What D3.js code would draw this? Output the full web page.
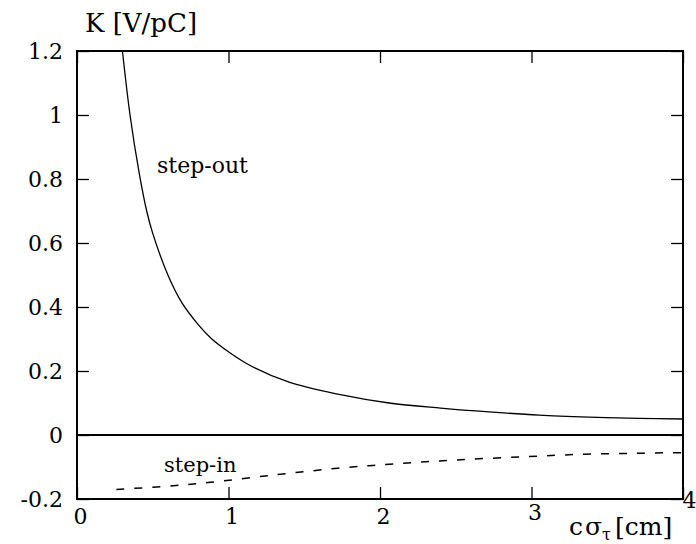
<!DOCTYPE html>
<html>
<head>
<meta charset="utf-8">
<script src="https://cdn.jsdelivr.net/npm/d3@7"></script>
<style>
  body { margin: 0; background: #fff; }
</style>
</head>
<body>
<div id="chart"></div>
<script>
// Data arrays
let xTicks = [0, 1, 2, 3, 4];
let yTicks = [-0.2, 0, 0.2, 0.4, 0.6, 0.8, 1.0, 1.2];
let yTickLabels = ["-0.2", "0", "0.2", "0.4", "0.6", "0.8", "1", "1.2"];

let stepOutX = [0.30, 0.35, 0.41, 0.46, 0.50, 0.60, 0.69, 0.80, 0.89, 1.00, 1.14, 1.40, 1.73, 2.06, 2.40, 2.72, 3.05, 3.38, 3.71, 4.00];
let stepOutK = [1.20, 1.00, 0.82, 0.70, 0.63, 0.50, 0.415, 0.345, 0.30, 0.26, 0.218, 0.165, 0.127, 0.10, 0.084, 0.072, 0.062, 0.056, 0.052, 0.050];

let stepInX = [0.26, 0.60, 0.88, 1.30, 1.72, 2.10, 2.50, 2.95, 3.35, 3.70, 4.00];
let stepInK = [-0.170, -0.160, -0.148, -0.125, -0.104, -0.090, -0.078, -0.068, -0.060, -0.057, -0.055];

let W = 696, H = 544;
let plotL = 77, plotR = 683, plotT = 51, plotB = 499;
let serif = "'DejaVu Serif', 'Liberation Serif', serif";

let svg = d3.select("#chart")
  .append("svg")
  .attr("width", W)
  .attr("height", H)
  .style("font-family", serif);

let x = d3.scaleLinear().domain([0, 4]).range([plotL, plotR]);
let y = d3.scaleLinear().domain([-0.2, 1.2]).range([plotB, plotT]);

let tickLen = 12;

// left axis with labels, ticks pointing inward
svg.append("g")
  .attr("transform", `translate(${plotL},0)`)
  .call(d3.axisLeft(y).tickValues(yTicks).tickSize(-tickLen).tickPadding(14)
    .tickFormat((d, i) => yTickLabels[i]))
  .call(styleAxis)
  .selectAll("text")
  .attr("font-size", 22)
  .attr("dy", "0.35em");

// right axis, ticks only
svg.append("g")
  .attr("transform", `translate(${plotR},0)`)
  .call(d3.axisRight(y).tickValues(yTicks).tickSize(-tickLen).tickFormat(""))
  .call(styleAxis);

// bottom axis with labels
let bx = svg.append("g")
  .attr("transform", `translate(0,${plotB})`)
  .call(d3.axisBottom(x).tickValues(xTicks).tickSize(-tickLen).tickPadding(6)
    .tickFormat(d3.format("d")))
  .call(styleAxis);
bx.selectAll("text")
  .attr("font-size", 22)
  .attr("dx", d => d === 4 ? 6 : 3)
  .attr("y", d => d === 4 ? 9 : (d === 3 ? 21 : 25))
  .attr("dy", 0);

// top axis, ticks only
svg.append("g")
  .attr("transform", `translate(0,${plotT})`)
  .call(d3.axisTop(x).tickValues(xTicks).tickSize(-tickLen).tickFormat(""))
  .call(styleAxis);

// frame
svg.append("rect")
  .attr("x", plotL).attr("y", plotT)
  .attr("width", plotR - plotL).attr("height", plotB - plotT)
  .attr("fill", "none")
  .attr("stroke", "#000")
  .attr("stroke-width", 2);

// zero line
svg.append("line")
  .attr("x1", x(0)).attr("x2", x(4))
  .attr("y1", y(0)).attr("y2", y(0))
  .attr("stroke", "#000")
  .attr("stroke-width", 1.8);

let line = d3.line()
  .x(d => x(d[0]))
  .y(d => y(d[1]))
  .curve(d3.curveCatmullRom.alpha(0.5));

svg.append("path")
  .datum(d3.zip(stepOutX, stepOutK))
  .attr("d", line)
  .attr("fill", "none")
  .attr("stroke", "#000")
  .attr("stroke-width", 1.3);

svg.append("path")
  .datum(d3.zip(stepInX, stepInK))
  .attr("d", line)
  .attr("fill", "none")
  .attr("stroke", "#000")
  .attr("stroke-width", 1.5)
  .attr("stroke-dasharray", "8,10");

// annotations
svg.append("text").attr("x", 157).attr("y", 173).attr("font-size", 22).text("step-out");
svg.append("text").attr("x", 164).attr("y", 472).attr("font-size", 21).text("step-in");

// axis titles
svg.append("text").attr("x", 85).attr("y", 32).attr("font-size", 26).text("K [V/pC]");

let xt = svg.append("text").attr("x", 569).attr("y", 535).attr("font-size", 25);
xt.append("tspan").text("c");
xt.append("tspan").attr("dx", 2).text("σ");
xt.append("tspan").attr("font-size", 16).attr("dy", 5).text("τ");
xt.append("tspan").attr("dy", -5).attr("dx", 4).text("[cm]");

function styleAxis(g) {
  g.attr("font-family", null);
  g.select(".domain").remove();
  g.selectAll(".tick line").attr("stroke", "#000").attr("stroke-width", 1.3);
}
</script>
</body>
</html>
